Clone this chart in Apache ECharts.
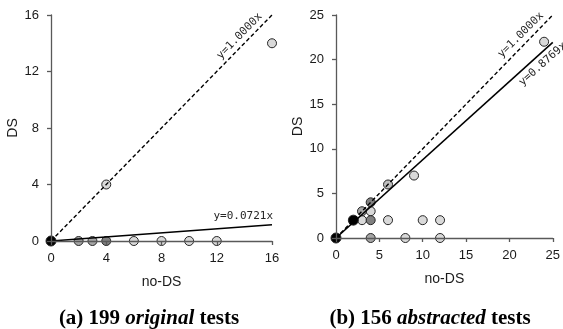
<!DOCTYPE html>
<html><head><meta charset="utf-8">
<script src="https://cdn.jsdelivr.net/npm/echarts@6/dist/echarts.min.js"></script>
<style>html,body{margin:0;padding:0;background:#fff}#c{width:563px;height:329px}</style>
</head><body><div id="c"></div>
<script>
// ---- Chart (a): 199 original tests ----
const aTicks = [0, 4, 8, 12, 16];
const aBlack = [[0, 0]];
const aDark = [[4, 0]];
const aMid = [[2, 0], [3, 0]];
const aSoft = [];
const aLight = [[6, 0], [8, 0], [10, 0], [12, 0], [4, 4], [16, 14]];
const aSlopes = [1.0, 0.0721];
const aTitle = ['(a) 199 ', 'original', ' tests'];
// ---- Chart (b): 156 abstracted tests ----
const bTicks = [0, 5, 10, 15, 20, 25];
const bBlack = [[0, 0], [2, 2]];
const bDark = [[4, 2], [4, 4]];
const bMid = [[3, 3], [4, 0]];
const bSoft = [[6, 6]];
const bLight = [[3, 2], [4, 3], [6, 2], [9, 7], [10, 2], [12, 2], [8, 0], [12, 0], [24, 22]];
const bSlopes = [1.0, 0.8769];
const bTitle = ['(b) 156 ', 'abstracted', ' tests'];

const AX = '#595959';
const LBL = '#1a1a1a';
function axes(ticks, gi) {
  const max = ticks[ticks.length - 1], iv = ticks[1] - ticks[0];
  const common = {
    gridIndex: gi, type: 'value', min: ticks[0], max: max, interval: iv, z: 4,
    axisLine: {show: true, lineStyle: {color: AX, width: 1.3}},
    axisTick: {show: true, length: 4, lineStyle: {color: AX, width: 1.3}},
    splitLine: {show: false},
    axisLabel: {color: LBL, fontFamily: 'Liberation Sans', fontSize: 13},
    nameTextStyle: {color: LBL, fontFamily: 'Liberation Sans', fontSize: 14},
    nameLocation: 'middle'
  };
  return {
    x: Object.assign({}, common, {name: 'no-DS', nameGap: 34, axisLabel: Object.assign({}, common.axisLabel, {margin: 11})}),
    y: Object.assign({}, common, {name: 'DS', nameGap: 30, nameRotate: 90, axisLabel: Object.assign({}, common.axisLabel, {margin: 12})})
  };
}
const A = axes(aTicks, 0), B = axes(bTicks, 1);

function scatter(data, gi, fill, size) {
  return {type: 'scatter', xAxisIndex: gi, yAxisIndex: gi, data: data, z: 2,
    symbolSize: size || 9, itemStyle: {color: fill, borderColor: '#262626', borderWidth: 1, opacity: 1},
    emphasis: {disabled: true}, silent: true};
}
function trend(slope, max, gi, dashed, lab) {
  return {type: 'line', xAxisIndex: gi, yAxisIndex: gi, z: 3, silent: true,
    symbol: 'circle', symbolSize: 0, showSymbol: true, animation: false,
    lineStyle: {color: '#000', width: dashed ? 1.4 : 1.6, type: dashed ? [4, 2.5] : 'solid'},
    data: [[0, 0], {value: [max, slope * max], label: Object.assign({show: true,
      formatter: 'y=' + slope.toFixed(4) + 'x', position: [0, 0],
      fontFamily: 'DejaVu Sans Mono', fontSize: 11, color: '#262626'}, lab)}]};
}
const aMax = aTicks[aTicks.length - 1], bMax = bTicks[bTicks.length - 1];
const series = [
  scatter(aLight, 0, '#d9d9d9'), scatter(aMid, 0, '#a6a6a6'), scatter(aDark, 0, '#808080'), scatter(aBlack, 0, '#000', 10),
  trend(aSlopes[0], aMax, 0, true, {align: 'right', verticalAlign: 'bottom', rotate: 45.7, offset: [-8, -3]}),
  trend(aSlopes[1], aMax, 0, false, {align: 'right', verticalAlign: 'bottom', rotate: 0, offset: [1, -3]}),
  scatter(bLight, 1, '#d9d9d9'), scatter(bSoft, 1, '#bfbfbf'), scatter(bMid, 1, '#a6a6a6'), scatter(bDark, 1, '#808080'), scatter(bBlack, 1, '#000', 10),
  trend(bSlopes[0], bMax, 1, true, {align: 'right', verticalAlign: 'bottom', rotate: 45, offset: [-7, -3]}),
  trend(bSlopes[1], bMax, 1, false, {align: 'right', verticalAlign: 'top', rotate: 41.6, offset: [8, 4]})
];
function title(parts, cx) {
  return {text: '{n|' + parts[0] + '}{i|' + parts[1] + '}{n|' + parts[2] + '}',
    left: cx, top: 303, textAlign: 'center',
    textStyle: {rich: {
      n: {fontFamily: 'Liberation Serif', fontWeight: 'bold', fontSize: 21, color: '#000'},
      i: {fontFamily: 'Liberation Serif', fontWeight: 'bold', fontStyle: 'italic', fontSize: 21, color: '#000'}}}};
}
const chart = echarts.init(document.getElementById('c'), null, {renderer: 'canvas'});
chart.setOption({
  animation: false,
  backgroundColor: '#fff',
  title: [title(aTitle, 144), title(bTitle, 425)],
  grid: [
    {left: 51, top: 15, width: 221, height: 226},
    {left: 336, top: 15, width: 219, height: 223}
  ],
  xAxis: [A.x, B.x],
  yAxis: [A.y, B.y],
  series: series
});
</script></body></html>
